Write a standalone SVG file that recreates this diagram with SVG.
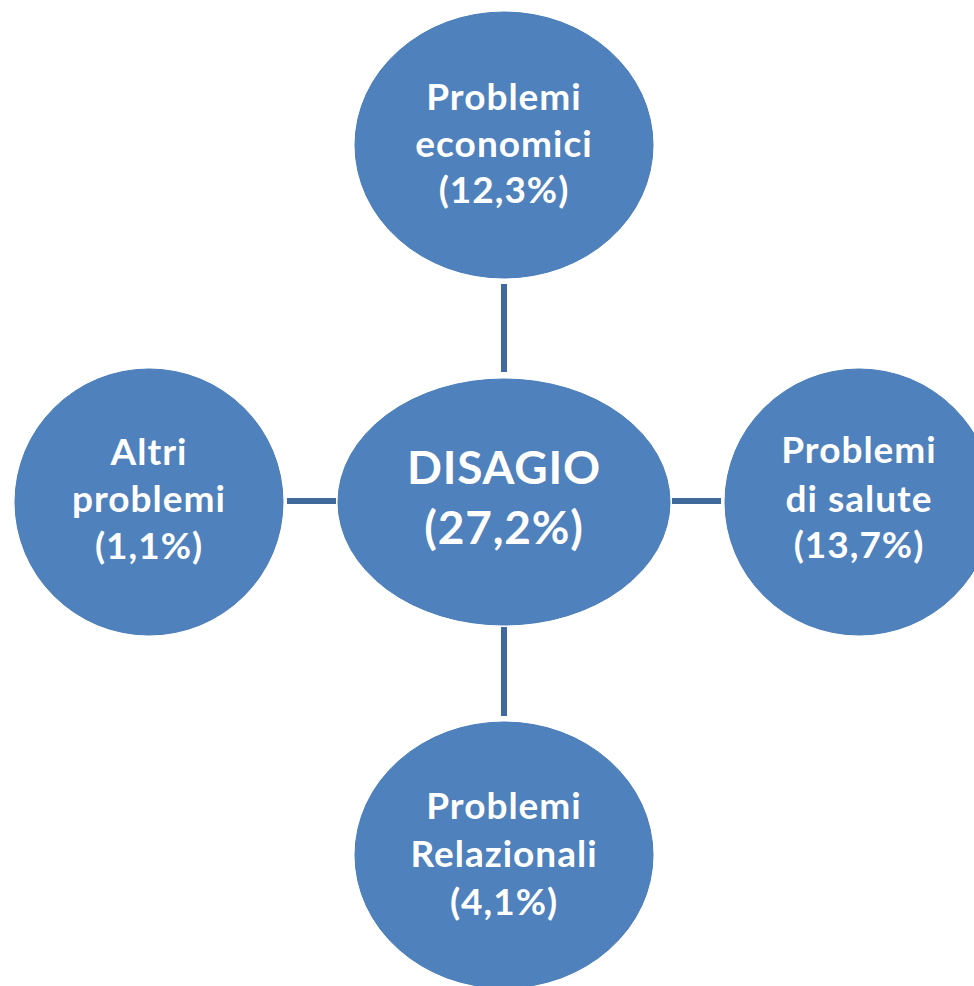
<svg xmlns="http://www.w3.org/2000/svg" width="974" height="986" viewBox="0 0 974 986">
<style>
.node{fill:#4F81BD;stroke:#4A7DB9;stroke-width:1}
.t{font-family:Lato,"Open Sans","Liberation Sans",sans-serif;font-weight:700;fill:#fff;text-anchor:middle;font-size:37px;letter-spacing:1px}
.big{font-size:46px;letter-spacing:0.8px}
.conn{stroke:#40699C;stroke-width:6;fill:none}
</style>
<rect width="974" height="986" fill="#fff"/>
<g id="connectors">
<line class="conn" x1="504" y1="284" x2="504" y2="372"/>
<line class="conn" x1="287" y1="501" x2="336" y2="501"/>
<line class="conn" x1="672" y1="501" x2="721" y2="501"/>
<line class="conn" x1="504" y1="627" x2="504" y2="716"/>
</g>
<g id="center">
<ellipse class="node" cx="504" cy="502" rx="166" ry="123"/>
<text class="t big" x="504" y="484">DISAGIO</text>
<text class="t big" x="504" y="544">(27,2%)</text>
</g>
<g id="top">
<ellipse class="node" cx="504" cy="145" rx="149" ry="133"/>
<text class="t" x="504" y="110">Problemi</text>
<text class="t" x="504" y="157">economici</text>
<text class="t" x="504" y="203">(12,3%)</text>
</g>
<g id="left">
<ellipse class="node" cx="149" cy="502" rx="134" ry="133"/>
<text class="t" x="149" y="465">Altri</text>
<text class="t" x="149" y="512">problemi</text>
<text class="t" x="149" y="559">(1,1%)</text>
</g>
<g id="right">
<ellipse class="node" cx="859" cy="502" rx="134" ry="133"/>
<text class="t" x="859" y="463">Problemi</text>
<text class="t" x="859" y="512">di salute</text>
<text class="t" x="859" y="558">(13,7%)</text>
</g>
<g id="bottom">
<ellipse class="node" cx="504" cy="855" rx="149" ry="133"/>
<text class="t" x="504" y="819">Problemi</text>
<text class="t" x="504" y="867">Relazionali</text>
<text class="t" x="504" y="915">(4,1%)</text>
</g>
</svg>
